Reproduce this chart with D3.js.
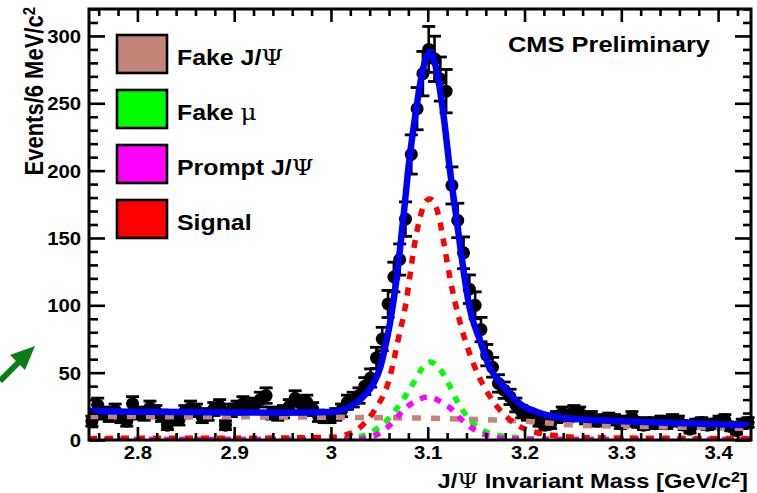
<!DOCTYPE html>
<html>
<head>
<meta charset="utf-8">
<script src="https://cdn.jsdelivr.net/npm/d3@7"></script>
<style>
  html, body { margin: 0; padding: 0; background: #fff; }
  svg { display: block; }
  text { font-family: "Liberation Sans", Arial, Helvetica, sans-serif; font-weight: bold; fill: #000; }
  .sym { font-family: "DejaVu Serif", "Liberation Serif", serif; font-weight: normal; }
</style>
</head>
<body>
<svg id="chart" width="757" height="493"></svg>
<script>
// ---- histogram binning (6 MeV bins) ----
const binLow = 2.75;
const binWidth = 0.006;

// ---- event counts per bin ----
const counts = [
  14, 26, 20, 18, 22, 17, 14, 27, 20, 19,
  24, 21, 18, 11, 16, 15, 21, 24, 22, 17,
  19, 23, 25, 11, 22, 24, 27, 25, 26, 30,
  33, 20, 19, 21, 25, 31, 27, 28, 23, 18,
  17, 17, 19, 22, 28, 30, 33, 40, 46, 61,
  75, 101, 121, 134, 164, 212, 246, 272, 290, 283,
  268, 259, 189, 163, 139, 112, 100, 82, 63, 54,
  42, 37, 32, 26, 21, 19, 17, 14, 11, 12,
  17, 20, 18, 21, 20, 16, 17, 14, 15, 16,
  15, 12, 14, 17, 13, 11, 13, 12, 14, 12,
  15, 14, 11, 8, 12, 13, 11, 12, 14, 15,
  10, 7, 12, 13
];

// ---- fit components: [mass, events] ----
const fakeJpsi = [
  [2.75, 17.5], [2.85, 17.3], [2.95, 17.1], [3.05, 16.6], [3.12, 15.9],
  [3.171, 14.8], [3.209, 13.6], [3.25, 11.1], [3.336, 9.9], [3.422, 8.7], [3.434, 8.6]
];
const fakeMu = [
  [2.75, 0.4], [3.0, 0.5], [3.025, 2], [3.040, 5], [3.0505, 10], [3.061, 17],
  [3.0745, 30], [3.085, 42], [3.094, 53], [3.102, 58], [3.110, 55], [3.1193, 45],
  [3.1296, 30], [3.1433, 15], [3.1605, 6], [3.1845, 2.2], [3.22, 0.7], [3.434, 0.4]
];
const promptJpsi = [
  [2.75, 0.3], [3.02, 0.5], [3.04, 2], [3.054, 7], [3.065, 14], [3.0745, 22],
  [3.088, 29], [3.100, 32], [3.112, 29], [3.126, 22], [3.135, 15], [3.1433, 10],
  [3.1605, 3.7], [3.18, 1.2], [3.22, 0.4], [3.434, 0.3]
];
const signal = [
  [2.75, 1.2], [2.90, 1.3], [3.00, 2], [3.02, 5], [3.034, 12], [3.045, 22],
  [3.061, 47], [3.069, 73], [3.078, 104], [3.082, 124], [3.087, 148], [3.092, 165],
  [3.097, 176], [3.102, 179], [3.107, 176], [3.112, 164], [3.117, 145], [3.122, 124],
  [3.1335, 87], [3.147, 57], [3.1645, 32], [3.185, 15], [3.216, 5], [3.26, 1.8], [3.434, 1]
];
const totalFit = [
  [2.75, 21.5], [2.80, 21], [2.85, 20.7], [2.90, 20.5], [2.95, 20.3], [3.00, 20.8],
  [3.02, 24.7], [3.033, 32], [3.044, 42], [3.051, 54], [3.056, 69], [3.061, 87],
  [3.068, 121], [3.0745, 163], [3.081, 208], [3.088, 245], [3.095, 275], [3.102, 288],
  [3.109, 275], [3.116, 243], [3.123, 200], [3.130, 163], [3.138, 121], [3.143, 99],
  [3.154, 74], [3.164, 54], [3.178, 40], [3.195, 27], [3.212, 21], [3.246, 16],
  [3.315, 13.6], [3.383, 12], [3.434, 11]
];

// ---- axes ----
const xDomain = [2.75, 3.434];
const yDomain = [0, 320];
const xTicks = [2.8, 2.9, 3.0, 3.1, 3.2, 3.3, 3.4];
const xTickLabels = ["2.8", "2.9", "3", "3.1", "3.2", "3.3", "3.4"];
const yTicks = [0, 50, 100, 150, 200, 250, 300];
const yTickLabels = ["0", "50", "100", "150", "200", "250", "300"];

// ---- legend ----
const legendLabels = ["Fake J/Ψ", "Fake μ", "Prompt J/Ψ", "Signal"];
const legendColors = ["#c1857a", "#00ff00", "#ff00ff", "#ff0000"];

const svg = d3.select("#chart");
const L = 89, R = 751, T = 9, B = 440;
const sx = 1.13; // horizontal text stretch

const x = d3.scaleLinear().domain(xDomain).range([L, R]);
const y = d3.scaleLinear().domain(yDomain).range([B, T]);

// text helper: splits Greek symbols into a serif tspan, handles "^2"
function richText(sel, str) {
  const parts = str.split(/([Ψμ]|\^2)/).filter(s => s.length);
  let sup = false;
  parts.forEach(p => {
    if (p === "^2") {
      sel.append("tspan").attr("dy", "-0.45em").attr("font-size", "0.68em").text("2");
      sup = true;
    } else {
      const t = sel.append("tspan").text(p);
      if (sup) { t.attr("dy", "0.306em"); sup = false; }
      if (p === "Ψ" || p === "μ") t.attr("class", "sym");
    }
  });
  return sel;
}

const defs = svg.append("defs");
defs.append("clipPath").attr("id", "plotclip")
  .append("rect").attr("x", L).attr("y", T).attr("width", R - L).attr("height", B - T);

// ---- data points with Poisson error bars ----
const pts = counts.map((c, i) => ({ m: binLow + binWidth * (i + 0.5), c: c, e: Math.sqrt(c) }));
const gPts = svg.append("g");
const capW = 6.5;
pts.forEach(d => {
  const cx = x(d.m);
  const y0 = y(d.c - d.e), y1 = y(d.c + d.e);
  gPts.append("line").attr("x1", cx).attr("x2", cx).attr("y1", y0).attr("y2", y1)
    .attr("stroke", "#000").attr("stroke-width", 2.6);
  gPts.append("line").attr("x1", cx - capW).attr("x2", cx + capW).attr("y1", y1).attr("y2", y1)
    .attr("stroke", "#000").attr("stroke-width", 2.8);
  gPts.append("line").attr("x1", cx - capW).attr("x2", cx + capW).attr("y1", y0).attr("y2", y0)
    .attr("stroke", "#000").attr("stroke-width", 2.8);
  gPts.append("circle").attr("cx", cx).attr("cy", y(d.c)).attr("r", 6.5).attr("fill", "#000");
});

// ---- fit curves ----
const line = d3.line().x(d => x(d[0])).y(d => y(d[1])).curve(d3.curveMonotoneX);
const gCurves = svg.append("g").attr("clip-path", "url(#plotclip)");
const curveSpecs = [
  { data: fakeJpsi, color: legendColors[0], dash: "9,10", w: 5.5 },
  { data: fakeMu, color: legendColors[1], dash: "7,8", w: 5.5 },
  { data: promptJpsi, color: legendColors[2], dash: "7,8", w: 5.5 },
  { data: signal, color: legendColors[3], dash: "8,8", w: 5.5 },
  { data: totalFit, color: "#0000f5", dash: null, w: 6.5 }
];
curveSpecs.forEach(s => {
  const p = gCurves.append("path").attr("d", line(s.data)).attr("fill", "none")
    .attr("stroke", s.color).attr("stroke-width", s.w);
  if (s.dash) p.attr("stroke-dasharray", s.dash);
});

// ---- axes & frame ----
const yMinor = d3.range(0, 321, 10).filter(v => v % 50 !== 0);
const xMinor = d3.range(2.76, 3.434, 0.02).filter(v => Math.abs(v * 10 - Math.round(v * 10)) > 1e-6);

function styleAxis(g) {
  g.select(".domain").remove();
  g.selectAll(".tick line").attr("stroke", "#000").attr("stroke-width", 2.6);
}

const gyL = svg.append("g").attr("transform", `translate(${L},0)`)
  .call(d3.axisLeft(y).tickValues(yTicks).tickSize(-16).tickPadding(7)
    .tickFormat((d, i) => yTickLabels[i]));
styleAxis(gyL);
gyL.selectAll(".tick text").attr("font-size", 18).attr("font-family", null)
  .attr("transform", `scale(${sx},1)`).attr("dy", "0.36em");
svg.append("g").attr("transform", `translate(${L},0)`)
  .call(d3.axisLeft(y).tickValues(yMinor).tickSize(-9).tickFormat("")).call(styleAxis);
svg.append("g").attr("transform", `translate(${R},0)`)
  .call(d3.axisRight(y).tickValues(yTicks).tickSize(-16).tickFormat("")).call(styleAxis);
svg.append("g").attr("transform", `translate(${R},0)`)
  .call(d3.axisRight(y).tickValues(yMinor).tickSize(-8).tickFormat("")).call(styleAxis);

const gxB = svg.append("g").attr("transform", `translate(0,${B})`)
  .call(d3.axisBottom(x).tickValues(xTicks).tickSize(-13).tickPadding(6)
    .tickFormat((d, i) => xTickLabels[i]));
styleAxis(gxB);
gxB.selectAll(".tick text").attr("font-size", 18).attr("font-family", null)
  .attr("transform", `scale(${sx},1)`);
svg.append("g").attr("transform", `translate(0,${B})`)
  .call(d3.axisBottom(x).tickValues(xMinor).tickSize(-7).tickFormat("")).call(styleAxis);
svg.append("g").attr("transform", `translate(0,${T})`)
  .call(d3.axisTop(x).tickValues(xTicks).tickSize(-13).tickFormat("")).call(styleAxis);
svg.append("g").attr("transform", `translate(0,${T})`)
  .call(d3.axisTop(x).tickValues(xMinor).tickSize(-7).tickFormat("")).call(styleAxis);

svg.append("rect").attr("x", L).attr("y", T).attr("width", R - L).attr("height", B - T)
  .attr("fill", "none").attr("stroke", "#000").attr("stroke-width", 3);

// ---- axis titles ----
richText(svg.append("text").attr("font-size", 21).attr("text-anchor", "end")
  .attr("transform", `translate(748,488) scale(${sx},1)`), "J/Ψ Invariant Mass [GeV/c^2]");
richText(svg.append("text").attr("font-size", 22).attr("text-anchor", "end")
  .attr("transform", `translate(43,7) rotate(-90) scale(1,${sx})`), "Events/6 MeV/c^2");

// ---- CMS label ----
svg.append("text").attr("font-size", 22.5).attr("text-anchor", "end")
  .attr("transform", `translate(710,52) scale(${sx},1)`).text("CMS Preliminary");

// ---- legend ----
const gLeg = svg.append("g");
legendLabels.forEach((lab, i) => {
  const top = 35 + i * 55;
  gLeg.append("rect").attr("x", 117).attr("y", top).attr("width", 50).attr("height", 38)
    .attr("fill", legendColors[i]).attr("stroke", "#000").attr("stroke-width", 2.6);
  richText(gLeg.append("text").attr("font-size", 22)
    .attr("transform", `translate(177,${top + 30}) scale(${sx},1)`), lab);
});

// ---- annotation arrow ----
const gArr = svg.append("g");
gArr.append("line").attr("x1", 0).attr("y1", 381).attr("x2", 26).attr("y2", 355)
  .attr("stroke", "#0a7d14").attr("stroke-width", 6);
gArr.append("path").attr("d", "M35,346 L10,355 L25,370 Z").attr("fill", "#0a7d14");
</script>
</body>
</html>
